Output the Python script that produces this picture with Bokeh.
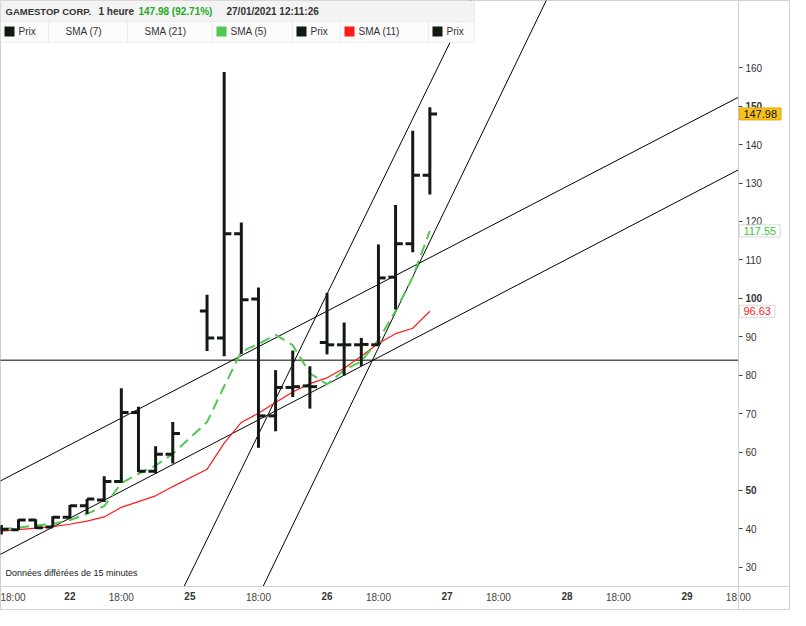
from bokeh.plotting import figure
from bokeh.models import Range1d, FixedTicker, BoxAnnotation, Label, ColumnDataSource, LinearAxis
from bokeh.embed import file_html
from bokeh.resources import INLINE

# ---------------- data ----------------
slots  = [0, 1, 2, 3, 4, 5, 6, 7, 8, 9, 10, 12, 13, 14, 15, 16, 17, 18, 19, 20, 21, 22, 23, 24, 25]
opens  = [40.0, 39.8, 42.3, 40.5, 43.0, 46.0, 47.5, 52.3, 70.3, 55.0, 59.4, 96.7, 89.7, 116.8, 99.8,
          69.4, 76.8, 77.2, 88.5, 87.9, 87.9, 87.9, 105.5, 114.2, 132.0]
highs  = [41.0, 42.5, 42.5, 43.3, 46.2, 47.8, 53.7, 76.6, 71.8, 61.5, 67.8, 100.9, 158.9, 119.7, 102.8,
          81.3, 86.4, 82.3, 101.4, 93.7, 89.7, 114.0, 124.3, 143.6, 149.7]
lows   = [38.5, 39.7, 40.0, 40.4, 42.7, 43.9, 47.0, 52.0, 54.8, 54.4, 57.0, 86.3, 84.9, 85.5, 61.1,
          65.4, 74.3, 71.3, 85.4, 79.9, 82.4, 87.7, 97.1, 112.0, 127.0]
closes = [39.9, 42.3, 40.3, 43.0, 46.0, 47.8, 52.3, 70.3, 55.0, 59.4, 64.8, 89.7, 116.8, 99.6, 69.4,
          76.8, 77.0, 77.0, 87.9, 87.9, 88.0, 105.3, 114.2, 132.0, 147.98]
sma5   = [39.9, 40.3, 40.9, 41.3, 42.3, 43.9, 45.9, 51.9, 54.3, 56.5, 59.5, 67.8, 77.1, 86.1, 88.1,
          90.5, 87.8, 80.5, 77.6, 81.3, 83.6, 89.2, 96.7, 105.5, 117.55]
sma11  = [39.4, 39.8, 40.2, 40.6, 41.2, 42.0, 43.1, 45.6, 47.1, 48.6, 51.0, 55.5, 62.3, 67.7, 70.1,
          72.9, 75.6, 77.8, 79.3, 81.8, 84.9, 88.3, 90.8, 92.2, 96.63]

tick_slots  = [0, 4, 7, 11, 15, 19, 22, 26, 29, 33, 36, 40, 43]
tick_labels = ["18:00", "22", "18:00", "25", "18:00", "26", "18:00", "27", "18:00", "28", "18:00", "29", "18:00"]
price_ticks = [30, 40, 50, 60, 70, 80, 90, 100, 110, 120, 130, 140, 150, 160]
bold_prices = [50, 100, 150]

level_line    = 83.9
channel_upper = [(0.0, 52.6), (42.17, 150.4)]
channel_lower = [(0.0, 33.5), (42.17, 131.5)]
steep_left    = [(10.66, 25.0), (26.21, 166.9)]
steep_right   = [(15.27, 25.0), (31.79, 177.5)]

pct_change = 92.71
legend_items = [("Prix", "bar"), ("SMA (7)", None), ("SMA (21)", None), ("SMA (5)", "green"),
                ("Prix", "bar"), ("SMA (11)", "red"), ("Prix", "bar")]

# ---------------- style / layout ----------------
BAR = "#131a13"
GREEN = "#52c852"
RED = "#ff1a1a"
FONT = "Liberation Sans"
FW, FH = 790, 610
AXIS_H = 24                 # room under the price area for the time labels
PX_PER_SLOT = 17.14
X0 = -0.05
X1 = X0 + FW / PX_PER_SLOT
AXIS_SLOT = 43.0            # where the price scale sits
Y0, Y1 = 25.0, 177.5        # visible price area
YB = Y0 - AXIS_H * (Y1 - Y0) / (FH - AXIS_H)
AXIS_PX = (AXIS_SLOT - X0) * PX_PER_SLOT

p = figure(frame_width=FW, frame_height=FH, output_backend="svg", toolbar_location=None,
           x_range=Range1d(X0, X1), y_range=Range1d(YB, Y1), y_axis_location="right",
           min_border_left=0, min_border_top=0, min_border_right=0, min_border_bottom=0,
           background_fill_color="white", border_fill_color="white")
p.grid.visible = False
p.outline_line_color = "#d0d0d0"


def style_y(ax, ticks, weight):
    ax.fixed_location = AXIS_SLOT
    ax.ticker = FixedTicker(ticks=ticks)
    ax.major_tick_out = 4
    ax.major_tick_in = 0
    ax.minor_tick_line_color = None
    ax.axis_line_color = "#cfcfcf"
    ax.major_tick_line_color = "#444444"
    ax.major_label_text_font = FONT
    ax.major_label_text_font_size = "10px"
    ax.major_label_text_font_style = weight
    ax.major_label_text_color = "#333333"
    ax.major_label_standoff = 3


def style_x(ax, ticks, labels, weight, color):
    ax.fixed_location = Y0
    ax.ticker = FixedTicker(ticks=ticks)
    ax.major_label_overrides = {s: t for s, t in zip(ticks, labels)}
    ax.major_tick_out = 0
    ax.major_tick_in = 0
    ax.major_tick_line_color = None
    ax.minor_tick_line_color = None
    ax.axis_line_color = "#cfcfcf"
    ax.major_label_text_font = FONT
    ax.major_label_text_font_size = "10px"
    ax.major_label_text_font_style = weight
    ax.major_label_text_color = color
    ax.major_label_standoff = 5


# price axes (regular and bold round values)
style_y(p.yaxis[0], [t for t in price_ticks if t not in bold_prices], "normal")
y_bold = LinearAxis()
style_y(y_bold, [t for t in price_ticks if t in bold_prices], "bold")
p.add_layout(y_bold, "right")

# time axes: hours (regular) and days (bold)
hour_ticks = [s for s, t in zip(tick_slots, tick_labels) if ":" in t]
hour_labels = [t for t in tick_labels if ":" in t]
day_ticks = [s for s, t in zip(tick_slots, tick_labels) if ":" not in t]
day_labels = [t for t in tick_labels if ":" not in t]
style_x(p.xaxis[0], hour_ticks, hour_labels, "normal", "#444444")
x_days = LinearAxis()
style_x(x_days, day_ticks, day_labels, "bold", "#333333")
p.add_layout(x_days, "below")


# trend lines (extended from their two anchor points, kept inside the price area)
def extend(line):
    (xa_, ya_), (xb_, yb_) = line
    g = (yb_ - ya_) / (xb_ - xa_)
    xs = [X0 - 1, AXIS_SLOT]
    ys = [ya_ + g * (x - xa_) for x in xs]
    if ys[0] < Y0:
        xs[0] = xa_ + (Y0 - ya_) / g
        ys[0] = Y0
    return xs, ys


for ln in (channel_upper, channel_lower, steep_left, steep_right):
    xs, ys = extend(ln)
    p.line(xs, ys, line_color="black", line_width=1)
p.line([X0 - 1, AXIS_SLOT], [level_line, level_line], line_color="black", line_width=1)

# moving averages
p.line(slots, sma11, line_color=RED, line_width=1.2)
p.line(slots, sma5, line_color=GREEN, line_width=2, line_dash="11 6")

# OHLC bars
src = ColumnDataSource(dict(x=slots, o=opens, h=highs, l=lows, c=closes,
                            xl=[s - 0.42 for s in slots], xr=[s + 0.42 for s in slots]))
p.segment(x0="x", y0="l", x1="x", y1="h", source=src, line_color=BAR, line_width=3)
p.segment(x0="xl", y0="o", x1="x", y1="o", source=src, line_color=BAR, line_width=3)
p.segment(x0="x", y0="c", x1="xr", y1="c", source=src, line_color=BAR, line_width=3)

# header panel
p.add_layout(BoxAnnotation(left=0, right=474, top=FH, bottom=FH - 21,
                           left_units="screen", right_units="screen", top_units="screen", bottom_units="screen",
                           fill_color="#f3f3f3", fill_alpha=1, line_color="#d4d4d4", line_width=1))
head = [(5, "GAMESTOP CORP.", "#333333", "9.5px"), (98, "1 heure", "#333333", "10px"),
        (138, "%.2f (%.2f%%)" % (closes[-1], pct_change), "#25a825", "10px"),
        (226, "27/01/2021 12:11:26", "#333333", "10px")]
for hx, txt, col, fs in head:
    p.add_layout(Label(x=hx, y=FH - 11, x_units="screen", y_units="screen", text=txt,
                       text_font=FONT, text_font_size=fs, text_font_style="bold",
                       text_color=col, text_baseline="middle"))

cells = [0, 48, 127, 212, 292, 340, 428, 474]
swatch = {"bar": BAR, "green": GREEN, "red": RED}
for i, (txt, kind) in enumerate(legend_items):
    l, r = cells[i], cells[i + 1]
    p.add_layout(BoxAnnotation(left=l, right=r, top=FH - 21, bottom=FH - 42,
                               left_units="screen", right_units="screen", top_units="screen", bottom_units="screen",
                               fill_color="#fbfbfb", fill_alpha=1, line_color="#d4d4d4", line_width=1))
    if kind is not None:
        p.add_layout(BoxAnnotation(left=l + 4, right=l + 14, top=FH - 26, bottom=FH - 36,
                                   left_units="screen", right_units="screen", top_units="screen", bottom_units="screen",
                                   fill_color=swatch[kind], fill_alpha=1, line_color=None))
        tx = l + 18
    else:
        tx = l + 17
    p.add_layout(Label(x=tx, y=FH - 31, x_units="screen", y_units="screen", text=txt,
                       text_font=FONT, text_font_size="10px", text_color="#333333", text_baseline="middle"))

# delay note
p.add_layout(Label(x=5, y=AXIS_H + 14, x_units="screen", y_units="screen", text="Données différées de 15 minutes",
                   text_font=FONT, text_font_size="9px", text_color="#222222", text_baseline="middle"))

# price tags on the price scale
tags = [(closes[-1], "#111111", "#f8c21c", "#e0a800"),
        (sma5[-1], "#3cc43c", "white", "#d8d8d8"),
        (sma11[-1], "#ff1a1a", "white", "#d8d8d8")]
for val, tcol, bg, bd in tags:
    p.add_layout(Label(x=AXIS_PX + 1, y=val, x_units="screen", y_units="data", text="%.2f" % val,
                       text_font=FONT, text_font_size="11px", text_color=tcol, text_baseline="middle",
                       background_fill_color=bg, background_fill_alpha=1, border_line_color=bd,
                       padding=dict(left=4, right=4, top=2, bottom=2)))

open("out.html", "w").write(file_html(p, INLINE))
